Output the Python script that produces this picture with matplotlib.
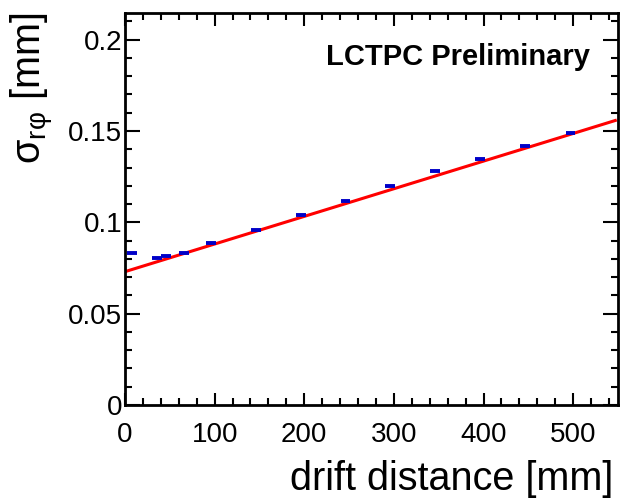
import numpy as np
import matplotlib
matplotlib.use("Agg")
import matplotlib.pyplot as plt
from matplotlib.ticker import MultipleLocator, FixedFormatter, FixedLocator

plt.rcParams['font.family'] = ['Liberation Sans', 'DejaVu Sans']
plt.rcParams['mathtext.fontset'] = 'custom'
plt.rcParams['mathtext.rm'] = 'Liberation Sans'
plt.rcParams['mathtext.it'] = 'Liberation Sans'

# measured resolution vs drift distance
drift = [8, 36, 46, 66, 96, 146, 196, 246, 296, 346, 396, 446, 497]
sigma = [0.0833, 0.0806, 0.0813, 0.0833, 0.0888, 0.0959, 0.1040,
         0.1118, 0.1199, 0.1280, 0.1348, 0.1418, 0.1490]
drift_err = [5.5] * len(drift)

# linear fit parameters
fit_p0 = 0.0730
fit_p1 = 0.0001513
fit_range = [0, 547]

xticks = [0, 100, 200, 300, 400, 500]
xticklabels = ['0', '100', '200', '300', '400', '500']
yticks = [0, 0.05, 0.1, 0.15, 0.2]
yticklabels = ['0', '0.05', '0.1', '0.15', '0.2']

fig = plt.figure(figsize=(6.21, 4.98), dpi=100)
ax = fig.add_axes([125 / 621, 93 / 498, 493 / 621, 392 / 498])

fx = np.array(fit_range, dtype=float)
ax.plot(fx, fit_p0 + fit_p1 * fx, color='#ff0000', lw=2.2, zorder=2)
ax.errorbar(drift, sigma, xerr=drift_err, fmt='none', ecolor='#0000c8',
            elinewidth=2.8, capsize=0, zorder=3)

ax.set_xlim(0, 550)
ax.set_ylim(0, 0.2146)

ax.xaxis.set_major_locator(FixedLocator(xticks))
ax.xaxis.set_major_formatter(FixedFormatter(xticklabels))
ax.xaxis.set_minor_locator(MultipleLocator(20))
ax.yaxis.set_major_locator(FixedLocator(yticks))
ax.yaxis.set_major_formatter(FixedFormatter(yticklabels))
ax.yaxis.set_minor_locator(MultipleLocator(0.01))

ax.tick_params(which='both', direction='in', top=True, right=True,
               labelsize=20, width=1.5, color='black')
ax.tick_params(axis='x', which='major', length=9, pad=12)
ax.tick_params(axis='y', which='major', length=11, pad=2)
ax.tick_params(which='minor', length=5)
for s in ax.spines.values():
    s.set_linewidth(2)

ax.text(0.943, 0.867, 'LCTPC Preliminary', transform=ax.transAxes,
        ha='right', va='baseline', fontsize=21, fontweight='bold')

fig.text(613 / 621, 8 / 498, 'drift distance [mm]', ha='right',
         va='baseline', fontsize=28.5)
fig.text(33 / 621, 485 / 498, r'$\mathregular{σ_{rφ}}$ [mm]', rotation=90,
         ha='center', va='top', fontsize=28.5)

fig.savefig('out.png', dpi=100)
